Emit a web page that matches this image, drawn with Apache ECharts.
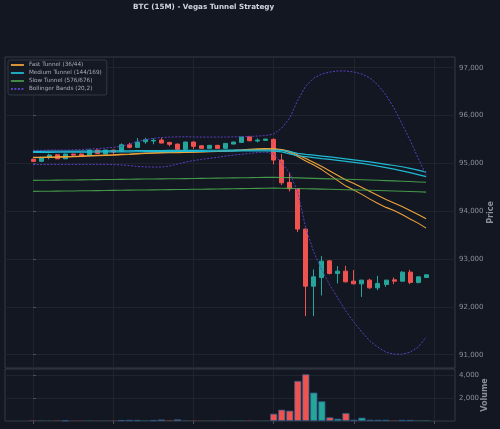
<!DOCTYPE html>
<html><head><meta charset="utf-8">
<script src="https://cdn.jsdelivr.net/npm/echarts@6/dist/echarts.min.js"></script>
<style>html,body{margin:0;padding:0;background:#131722;}#c{width:500px;height:429px;}</style>
</head><body><div id="c"></div>
<script>
// ---- data (50 x 15-minute candles) ----
const openP  = [95084,95042,95132,95180,95096,95195,95195,95167,95278,95195,95278,95251,95389,95335,95452,95467,95487,95439,95404,95293,95446,95368,95314,95377,95314,95404,95439,95557,95467,95481,95502,95069,94603,94469,93626,92433,92615,92962,92699,92747,92538,92481,92559,92398,92469,92565,92538,92726,92511,92615];
const closeP = [95042,95126,95174,95096,95195,95174,95153,95278,95209,95278,95236,95389,95335,95446,95494,95481,95425,95398,95293,95446,95356,95314,95377,95314,95418,95446,95550,95473,95487,95508,95069,94594,94469,93626,92433,92628,92956,92699,92747,92523,92481,92559,92398,92490,92559,92538,92726,92511,92628,92670];
const lowP   = [95030,95035,95084,95090,95090,95138,95145,95160,95200,95190,95195,95245,95314,95330,95410,95398,95420,95356,95285,95285,95299,95308,95308,95308,95308,95398,95430,95465,95439,95475,94979,94546,94414,93563,91806,91806,92239,92678,92490,92515,92475,92209,92377,92350,92419,92475,92530,92475,92490,92605];
const highP  = [95100,95140,95201,95190,95205,95200,95205,95285,95290,95285,95285,95418,95431,95529,95536,95523,95536,95445,95410,95455,95455,95375,95385,95385,95425,95452,95560,95565,95523,95515,95523,95195,94803,94475,93640,92783,93061,92970,92852,92858,92768,92565,92586,92649,92565,92615,92747,92774,92635,92680];
const volume = [20,15,12,18,45,10,12,15,10,12,14,80,95,90,20,85,130,25,140,20,15,12,10,14,12,18,20,15,12,14,640,990,905,3510,4090,2485,1725,320,200,700,110,290,110,100,100,20,90,90,20,25];

const fast36 = [95126,95128,95132,95136,95142,95147,95153,95161,95167,95174,95180,95188,95195,95205,95216,95222,95226,95230,95232,95236,95241,95245,95251,95257,95264,95272,95282,95293,95303,95310,95300,95278,95226,95142,95048,94965,94870,94755,94640,94525,94441,94352,94253,94159,94080,94013,93929,93839,93751,93647];
const fast44 = [95120,95122,95126,95130,95135,95140,95146,95153,95159,95166,95172,95179,95186,95195,95205,95212,95217,95221,95224,95228,95233,95237,95243,95249,95256,95263,95272,95282,95291,95298,95303,95289,95251,95174,95100,95017,94933,94839,94745,94651,94577,94494,94410,94326,94243,94170,94096,94013,93929,93841];
const med144 = [95230,95231,95232,95233,95234,95235,95236,95237,95238,95239,95240,95241,95242,95243,95244,95245,95246,95247,95248,95249,95250,95251,95252,95254,95256,95258,95259,95260,95261,95262,95258,95240,95199,95159,95140,95121,95100,95082,95063,95042,95021,95000,94971,94941,94912,94881,94845,94808,94766,94724];
const med169 = [95253,95253,95255,95255,95257,95257,95257,95259,95259,95262,95262,95264,95264,95266,95266,95268,95268,95270,95270,95272,95272,95272,95274,95274,95276,95276,95278,95278,95280,95280,95280,95270,95247,95209,95190,95172,95153,95134,95115,95096,95075,95054,95031,95006,94981,94956,94929,94895,94860,94818];
const slow576 = [94644,94646,94648,94650,94652,94654,94656,94658,94660,94662,94664,94666,94668,94670,94672,94674,94676,94678,94680,94682,94684,94687,94689,94692,94694,94697,94700,94702,94705,94707,94709,94706,94702,94697,94692,94687,94682,94677,94672,94667,94662,94657,94652,94646,94640,94634,94627,94620,94612,94604];
const slow676 = [94414,94416,94418,94420,94422,94424,94427,94429,94431,94433,94435,94437,94440,94442,94444,94446,94448,94451,94453,94455,94458,94460,94462,94465,94467,94470,94472,94475,94478,94480,94483,94481,94478,94474,94470,94466,94462,94458,94454,94450,94446,94442,94437,94432,94427,94422,94417,94412,94406,94400];
const bbUpper = [95272,95272,95278,95278,95278,95282,95289,95299,95310,95320,95335,95352,95404,95456,95498,95523,95540,95550,95554,95557,95554,95550,95550,95550,95550,95554,95561,95565,95571,95582,95613,95739,95948,96324,96617,96785,96868,96910,96931,96931,96910,96868,96785,96638,96429,96157,95822,95487,95111,94755];
const bbLower = [94975,94975,94979,94979,94979,94979,94979,94979,94979,94979,94975,94969,94954,94937,94927,94923,94923,94944,94985,95027,95059,95084,95105,95126,95153,95174,95190,95209,95226,95236,95195,95006,94797,94400,93646,93144,92768,92454,92182,91910,91680,91471,91283,91157,91052,91011,91011,91052,91157,91366];

const priceTicks = [91000,92000,93000,94000,95000,96000,97000];
const volTicks = [2000,4000];
const xTicks = [0,10,20,30,40,50];

const names = ['Fast Tunnel (36/44)','Medium Tunnel (144/169)','Slow Tunnel (576/676)','Bollinger Bands (20,2)'];

// ---- build ----
const UP = '#26a69a', DOWN = '#ef5350';
const idx = openP.map((_, i) => i);
const candles = idx.map(i => [i, openP[i], closeP[i], lowP[i], highP[i]]);
const vols = idx.map(i => ({
  value: [i, volume[i]],
  itemStyle: {color: closeP[i] >= openP[i] ? UP : DOWN, borderWidth: volume[i] < 30 ? 0 : 0.8}
}));
const pts = arr => arr.map((v, i) => [i, v]);

const gridLine = {lineStyle: {color: '#20242f', width: 1}};
const axisTxt = '#8b8f99';

function line(name, arr, color, width, extra) {
  return Object.assign({
    type: 'line', name, data: pts(arr), xAxisIndex: 0, yAxisIndex: 0,
    symbol: 'none', showSymbol: false, silent: true, z: 4,
    lineStyle: {color, width}, itemStyle: {color}
  }, extra || {});
}

const chart = echarts.init(document.getElementById('c'), null, {renderer: 'canvas'});
chart.setOption({
  animation: false,
  backgroundColor: '#131722',
  textStyle: {fontFamily: 'DejaVu Sans'},
  title: {
    text: 'BTC (15M) - Vegas Tunnel Strategy',
    left: 133, top: 4, padding: 0,
    textStyle: {color: '#d1d4dc', fontSize: 7.2, fontWeight: 'bold', fontFamily: 'DejaVu Sans'}
  },
  legend: {
    data: names, orient: 'vertical', left: 8, top: 60,
    padding: [2, 5, 3, 2], itemWidth: 13, itemHeight: 6, itemGap: 2,
    backgroundColor: '#151924', borderColor: '#343946', borderWidth: 1, borderRadius: 2,
    textStyle: {color: '#a9adb6', fontSize: 5.7, lineHeight: 6, fontFamily: 'DejaVu Sans'},
    lineStyle: {width: 1.8},
    itemStyle: {color: 'transparent', borderColor: 'transparent', borderWidth: 0},
    selectedMode: false
  },
  grid: [
    {left: 5, right: 45, top: 57, height: 311, show: true, borderColor: '#363a45', borderWidth: 1,
     backgroundColor: 'transparent', outerBoundsMode: 'none', containLabel: false},
    {left: 5, right: 45, top: 369, height: 52, show: true, borderColor: '#363a45', borderWidth: 1,
     backgroundColor: 'transparent', outerBoundsMode: 'none', containLabel: false}
  ],
  xAxis: [
    {type: 'value', gridIndex: 0, min: -3.5, max: 52.6,
     axisLine: {show: false}, axisLabel: {show: false},
     axisTick: {show: false, customValues: xTicks}, splitLine: Object.assign({show: true}, gridLine)},
    {type: 'value', gridIndex: 1, min: -3.5, max: 52.6,
     axisLine: {show: false}, axisLabel: {show: false},
     axisTick: {show: true, customValues: xTicks, length: 3, lineStyle: {color: '#4a4f5b'}},
     splitLine: Object.assign({show: true}, gridLine)}
  ],
  yAxis: [
    {type: 'value', gridIndex: 0, position: 'right', min: 90722, max: 97224, scale: true,
     axisLine: {show: false},
     axisTick: {show: true, customValues: priceTicks, length: 3, lineStyle: {color: '#4a4f5b'}},
     axisLabel: {customValues: priceTicks, color: axisTxt, fontSize: 7, margin: 4, fontFamily: 'DejaVu Sans'},
     splitLine: Object.assign({show: true}, gridLine),
     name: 'Price', nameLocation: 'middle', nameRotate: 90, nameGap: 32, nameMoveOverlap: false,
     nameTextStyle: {color: axisTxt, fontSize: 8, fontWeight: 'bold', fontFamily: 'DejaVu Sans'}},
    {type: 'value', gridIndex: 1, position: 'right', min: 0, max: 4550,
     axisLine: {show: false},
     axisTick: {show: true, customValues: volTicks, length: 3, lineStyle: {color: '#4a4f5b'}},
     axisLabel: {customValues: volTicks, color: axisTxt, fontSize: 7, margin: 4, fontFamily: 'DejaVu Sans'},
     splitLine: Object.assign({show: true}, gridLine),
     name: 'Volume', nameLocation: 'middle', nameRotate: 90, nameGap: 26, nameMoveOverlap: false,
     nameTextStyle: {color: axisTxt, fontSize: 8, fontWeight: 'bold', fontFamily: 'DejaVu Sans'}}
  ],
  series: [
    {type: 'candlestick', name: 'BTC', xAxisIndex: 0, yAxisIndex: 0, data: candles,
     encode: {x: 0, y: [1, 2, 3, 4]}, barWidth: 4.5, silent: true, z: 3,
     itemStyle: {color: UP, color0: DOWN, borderColor: UP, borderColor0: DOWN, borderWidth: 1}},
    {type: 'bar', name: 'Vol', xAxisIndex: 1, yAxisIndex: 1, data: vols, barWidth: 7.2, silent: true,
     itemStyle: {borderColor: '#2b5a88', borderWidth: 0.8}},
    line(names[0], fast36, '#f0a33a', 1.1),
    line(names[0], fast44, '#f0a33a', 1.1),
    line(names[1], med144, '#1fb9d2', 1.2),
    line(names[1], med169, '#1fb9d2', 1.2),
    line(names[2], slow576, '#4caf50', 1.1, {lineStyle: {color: '#4caf50', width: 1.1, opacity: 0.85}}),
    line(names[2], slow676, '#4caf50', 1.1, {lineStyle: {color: '#4caf50', width: 1.1, opacity: 0.85}}),
    line(names[3], bbUpper, '#5a3fc2', 1, {lineStyle: {color: '#5a3fc2', width: 1, type: [2, 1.5]}}),
    line(names[3], bbLower, '#5a3fc2', 1, {lineStyle: {color: '#5a3fc2', width: 1, type: [2, 1.5]}})
  ]
});
</script>
</body></html>
